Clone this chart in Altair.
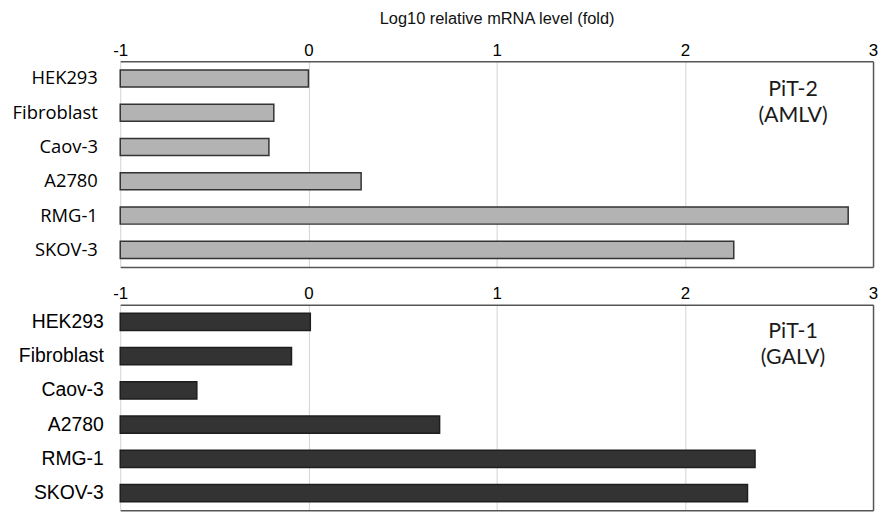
import altair as alt
import pandas as pd

# ---- data ----
cells = ["HEK293", "Fibroblast", "Caov-3", "A2780", "RMG-1", "SKOV-3"]
pit2_values = [0.0, -0.184, -0.21, 0.28, 2.868, 2.26]
pit1_values = [0.01, -0.09, -0.593, 0.697, 2.373, 2.333]
x_ticks = [-1, 0, 1, 2, 3]
x_domain = [-1, 3]
axis_origin = -1
x_title = "Log10 relative mRNA level (fold)"
panel_names = ["PiT-2\n(AMLV)", "PiT-1\n(GALV)"]
label_x = 2.575
label_cell = "HEK293"

W, H = 758, 207
FRAME = "#555555"
GRID = "#d3d3d3"


def panel(values, name, name_dy, fill, stroke, lab_font, lab_size, lab_pad,
          show_title):
    df = pd.DataFrame({"cell": cells, "value": values,
                       "base": [axis_origin] * len(cells)})
    xs = alt.Scale(domain=x_domain, nice=False, zero=False)
    ys = alt.Scale(domain=cells, paddingInner=0.5, paddingOuter=0.25)
    base = alt.Chart(df)
    bars = base.mark_bar(fill=fill, stroke=stroke, strokeWidth=1.5).encode(
        x=alt.X("value:Q", scale=xs,
                axis=alt.Axis(orient="top", values=x_ticks,
                              labelExpr="'' + datum.value",
                              title=x_title if show_title else None,
                              titleFont="Liberation Sans", titleFontSize=16.5,
                              titleFontWeight="normal", titleColor="#111",
                              titlePadding=15,
                              labelFont="Liberation Sans", labelFontSize=17,
                              labelColor="#000", labelPadding=2,
                              labelFlush=False, labelOverlap=False,
                              ticks=False, domainColor=FRAME, domainWidth=1.5,
                              grid=True, gridColor=GRID, gridWidth=1)),
        x2="base:Q",
        y=alt.Y("cell:N", scale=ys, sort=cells,
                axis=alt.Axis(orient="left", title=None, ticks=False,
                              domain=False, grid=False,
                              labelFont=lab_font, labelFontSize=lab_size,
                              labelColor="#000", labelPadding=lab_pad,
                              labelLimit=300)),
    )
    frame = base.mark_point(opacity=0).encode(
        x=alt.X("value:Q", scale=xs,
                axis=alt.Axis(orient="bottom", labels=False, ticks=False,
                              grid=False, title=None, domainColor=FRAME,
                              domainWidth=1.5)),
        y=alt.Y("cell:N", scale=ys, sort=cells,
                axis=alt.Axis(orient="right", labels=False, ticks=False,
                              grid=False, title=None, domainColor=FRAME,
                              domainWidth=1.5)),
    )
    tdf = pd.DataFrame({"x": [label_x], "cell": [label_cell], "t": [name]})
    text = alt.Chart(tdf).mark_text(
        font="Lato", fontSize=21.5, color="#1a1a1a", lineBreak="\n",
        lineHeight=26, align="center", baseline="middle", dy=name_dy
    ).encode(
        x=alt.X("x:Q", scale=xs, axis=None),
        y=alt.Y("cell:N", scale=ys, sort=cells, axis=None),
        text="t:N",
    )
    return alt.layer(bars, frame, text).resolve_axis(
        x="independent", y="independent"
    ).properties(width=W, height=H)


top = panel(pit2_values, panel_names[0], 11.75, "#b3b3b3", "#333333",
            "Open Sans", 18.5, 23, True)
bottom = panel(pit1_values, panel_names[1], 10.25, "#333333", "#1e1e1e",
               "Liberation Sans", 19.5, 17, False)

chart = alt.vconcat(top, bottom, spacing=38, bounds="flush").properties(
    padding={"left": 4, "top": 1, "right": 0, "bottom": 0}
).configure_view(stroke=None)

chart.save("out.html", embed_options={"renderer": "svg", "actions": False})
